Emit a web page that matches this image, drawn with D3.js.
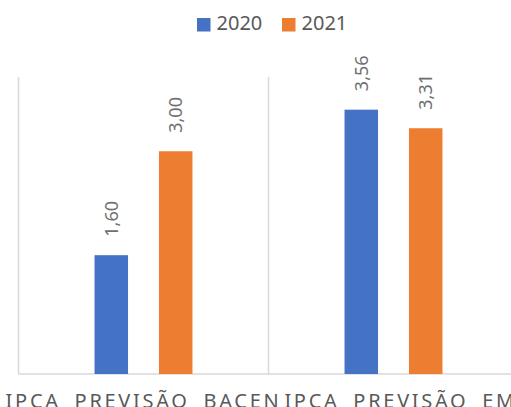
<!DOCTYPE html>
<html>
<head>
<meta charset="utf-8">
<script src="https://cdn.jsdelivr.net/npm/d3@7"></script>
<style>
  body { margin: 0; background: #fff; }
  svg { display: block; font-family: "Noto Sans", sans-serif; }
</style>
</head>
<body>
<div id="chart"></div>
<script>
// chart data
var categories = ["IPCA PREVISÃO BACEN", "IPCA PREVISÃO EMISSORES"];
var seriesNames = ["2020", "2021"];
var values2020 = [1.60, 3.56];
var values2021 = [3.00, 3.31];
var yDomain = [0, 4];

var colors = ["#4472C4", "#ED7D31"];
var width = 511, height = 407;
var plot = { left: 18.5, top: 77, bottom: 374, catWidth: 250 };

var rows = categories.map(function(c, i) {
  return { cat: c, vals: [values2020[i], values2021[i]] };
});

var svg = d3.select("#chart").append("svg")
  .attr("width", width)
  .attr("height", height);

var x0 = d3.scaleBand()
  .domain(categories)
  .range([plot.left, plot.left + plot.catWidth * categories.length])
  .padding(0);

var x1 = d3.scaleBand()
  .domain(seriesNames)
  .range([0, x0.bandwidth()])
  .paddingInner(0.48)
  .paddingOuter(1.18);

var y = d3.scaleLinear()
  .domain(yDomain)
  .range([plot.bottom, plot.top]);

// axis + separators
var grid = svg.append("g").attr("stroke", "#d9d9d9").attr("stroke-width", 1.5);
categories.forEach(function(c) {
  grid.append("line")
    .attr("x1", x0(c)).attr("x2", x0(c))
    .attr("y1", y(yDomain[1])).attr("y2", y(0));
});
grid.append("line")
  .attr("x1", plot.left).attr("x2", width)
  .attr("y1", y(0)).attr("y2", y(0));

// bars
var groups = svg.selectAll(".cat")
  .data(rows)
  .enter().append("g")
  .attr("class", "cat")
  .attr("transform", function(d) { return "translate(" + x0(d.cat) + ",0)"; });

groups.selectAll("rect")
  .data(function(d) { return d.vals.map(function(v, i) { return { s: seriesNames[i], v: v, i: i }; }); })
  .enter().append("rect")
  .attr("x", function(d) { return x1(d.s); })
  .attr("width", x1.bandwidth())
  .attr("y", function(d) { return y(d.v); })
  .attr("height", function(d) { return y(0) - y(d.v); })
  .attr("fill", function(d) { return colors[d.i]; });

var fmt = function(v) { return d3.format(".2f")(v).replace(".", ","); };

groups.selectAll(".val")
  .data(function(d) { return d.vals.map(function(v, i) { return { s: seriesNames[i], v: v }; }); })
  .enter().append("text")
  .attr("class", "val")
  .attr("transform", function(d) {
    return "translate(" + (x1(d.s) + x1.bandwidth() / 2 + 6.5) + "," + (y(d.v) - 18.5) + ") rotate(-90)";
  })
  .attr("font-size", 18)
  .attr("fill", "#6f6f6f")
  .text(function(d) { return fmt(d.v); });

// category labels
var prevEnd = -Infinity;
svg.selectAll(".catlabel")
  .data(categories)
  .enter().append("text")
  .attr("class", "catlabel")
  .attr("y", 407.5)
  .attr("font-size", 20)
  .attr("letter-spacing", 2.7)
  .attr("word-spacing", 6)
  .attr("fill", "#595959")
  .text(function(d) { return d; })
  .each(function(d) {
    var w = this.getComputedTextLength();
    var start = x0(d) + x0.bandwidth() / 2 - w / 2;
    if (start < prevEnd + 3) start = prevEnd + 3;
    d3.select(this).attr("x", start);
    prevEnd = start + w;
  });

// legend
var legend = svg.append("g");
var legendX = [197, 282];
seriesNames.forEach(function(s, i) {
  legend.append("rect")
    .attr("x", legendX[i]).attr("y", 18)
    .attr("width", 13.5).attr("height", 13.5)
    .attr("fill", colors[i]);
  legend.append("text")
    .attr("x", legendX[i] + 19.5).attr("y", 30)
    .attr("font-size", 20)
    .attr("fill", "#595959")
    .text(s);
});
</script>
</body>
</html>
